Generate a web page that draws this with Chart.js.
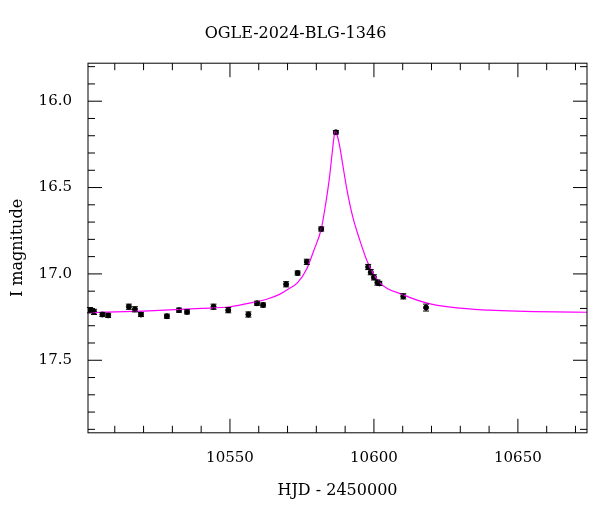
<!DOCTYPE html>
<html>
<head>
<script src="https://cdn.jsdelivr.net/npm/chart.js@4"></script>
<style>body{margin:0;background:#fff}#wrap{width:600px;height:512px}</style>
</head>
<body>
<div id="wrap"><canvas id="c"></canvas></div>
<script>
// observed photometry
const obsHjd = [10501.4,10502.8,10505.7,10507.7,10514.9,10517.0,10519.1,10528.1,10532.3,10535.1,10544.3,10549.4,10556.4,10559.4,10561.5,
  10569.5,10573.5,10576.7,10581.7,10586.8,10598.0,10598.9,10600.0,10601.2,10601.9,10610.2,10618.1];
const obsMag = [17.21,17.22,17.235,17.24,17.19,17.205,17.235,17.245,17.21,17.22,17.19,17.21,17.235,17.17,17.18,
  17.06,16.995,16.93,16.74,16.18,16.96,16.99,17.02,17.05,17.055,17.13,17.195];
const obsErr = [0.015,0.015,0.012,0.012,0.015,0.015,0.012,0.012,0.012,0.012,0.015,0.015,0.015,0.012,0.012,
  0.015,0.012,0.015,0.012,0.01,0.015,0.015,0.015,0.015,0.012,0.015,0.02];
// model curve
const modelHjd = [10500.7,10520,10540,10550,10558,10563,10567,10570,10573.5,10576.7,10579,10581.7,10583,10584.5,10585.5,10586.2,10586.6,
  10587.1,10588,10589,10590.5,10592.5,10595,10598,10602,10610,10620,10640,10674];
const modelMag = [17.225,17.215,17.2,17.19,17.165,17.145,17.12,17.09,17.05,16.97,16.87,16.74,16.62,16.45,16.3,16.2,16.17,
  16.19,16.25,16.35,16.5,16.66,16.8,16.94,17.05,17.12,17.175,17.21,17.222];

const serif = '"DejaVu Serif", "Liberation Serif", serif';

const frame = {
  id: 'frame',
  afterDraw(chart) {
    const ctx = chart.ctx, a = chart.chartArea, x = chart.scales.x, y = chart.scales.y;
    ctx.save();
    ctx.strokeStyle = '#000'; ctx.lineWidth = 1;
    ctx.strokeRect(a.left, a.top, a.right - a.left, a.bottom - a.top);
    ctx.beginPath();
    for (let v = 10510; v <= 10670; v += 10) {
      const p = x.getPixelForValue(v), len = v % 50 === 0 ? 14 : 7;
      ctx.moveTo(p, a.bottom); ctx.lineTo(p, a.bottom - len);
      ctx.moveTo(p, a.top); ctx.lineTo(p, a.top + len);
    }
    for (let i = 158; i <= 179; i++) {
      const v = i / 10, p = y.getPixelForValue(v), len = i % 5 === 0 ? 14 : 7;
      ctx.moveTo(a.left, p); ctx.lineTo(a.left + len, p);
      ctx.moveTo(a.right, p); ctx.lineTo(a.right - len, p);
    }
    ctx.stroke();
    // error bars
    ctx.beginPath();
    obsHjd.forEach((t, i) => {
      const px = x.getPixelForValue(t);
      const y1 = y.getPixelForValue(obsMag[i] - obsErr[i]), y2 = y.getPixelForValue(obsMag[i] + obsErr[i]);
      ctx.moveTo(px, y1); ctx.lineTo(px, y2);
      ctx.moveTo(px - 3, y1); ctx.lineTo(px + 3, y1);
      ctx.moveTo(px - 3, y2); ctx.lineTo(px + 3, y2);
    });
    ctx.stroke();
    ctx.restore();
  }
};

new Chart(document.getElementById('c'), {
  type: 'scatter',
  data: {
    datasets: [{
      data: modelHjd.map((t, i) => ({x: t, y: modelMag[i]})),
      showLine: true, borderColor: '#ff00ff', borderWidth: 1.2, pointRadius: 0,
      cubicInterpolationMode: 'monotone'
    }, {
      data: obsHjd.map((t, i) => ({x: t, y: obsMag[i]})),
      backgroundColor: '#000', borderColor: '#000', pointRadius: 2.5
    }]
  },
  options: {
    responsive: true, maintainAspectRatio: false, animation: false,
    layout: {padding: {top: 6, right: 13, left: 4, bottom: 8}},
    plugins: {
      legend: {display: false}, tooltip: {enabled: false},
      title: {display: true, text: 'OGLE-2024-BLG-1346', color: '#000',
        font: {family: serif, size: 16, weight: 'normal'}, padding: {top: 18, bottom: 20}}
    },
    scales: {
      x: {
        type: 'linear', min: 10500.7, max: 10674,
        grid: {display: false}, border: {display: false},
        afterBuildTicks: s => { s.ticks = [10550, 10600, 10650].map(v => ({value: v})); },
        ticks: {color: '#000', font: {family: serif, size: 15}, padding: 8, maxRotation: 0, callback: v => String(v)},
        title: {display: true, text: 'HJD - 2450000', color: '#000', font: {family: serif, size: 16}, padding: {top: 6}}
      },
      y: {
        type: 'linear', reverse: true, min: 15.78, max: 17.92,
        grid: {display: false}, border: {display: false},
        afterBuildTicks: s => { s.ticks = [16, 16.5, 17, 17.5].map(v => ({value: v})); },
        afterFit: s => { s.width = 84; },
        ticks: {color: '#000', font: {family: serif, size: 15}, padding: 8},
        title: {display: true, text: 'I magnitude', color: '#000', font: {family: serif, size: 16}}
      }
    }
  },
  plugins: [frame]
});
</script>
</body>
</html>
